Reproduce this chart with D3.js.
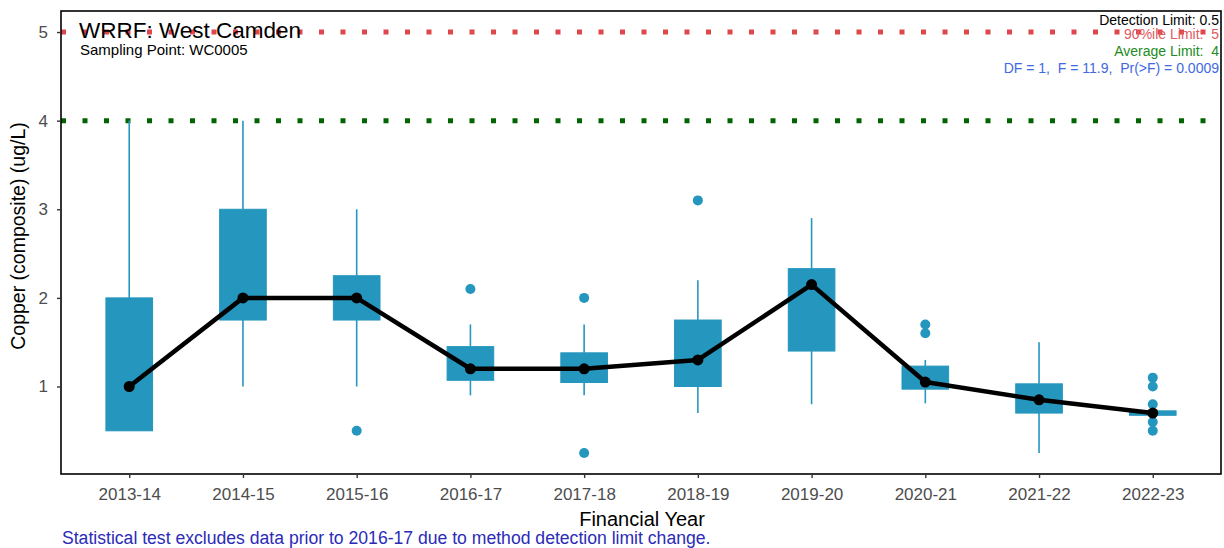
<!DOCTYPE html>
<html>
<head>
<meta charset="utf-8">
<script src="https://cdn.jsdelivr.net/npm/d3@7"></script>
<style>
  html, body { margin: 0; padding: 0; background: #fff; }
  svg { display: block; font-family: "Liberation Sans", Arial, sans-serif; }
</style>
</head>
<body>
<svg id="chart" width="1224" height="548"></svg>
<script>
const years = ["2013-14","2014-15","2015-16","2016-17","2017-18","2018-19","2019-20","2020-21","2021-22","2022-23"];
const q1    = [0.5, 1.75, 1.75, 1.07, 1.045, 1.0, 1.4, 0.97, 0.7, 0.675];
const q3    = [2.0, 3.0, 2.25, 1.45, 1.38, 1.75, 2.33, 1.23, 1.03, 0.725];
const whiskLow  = [0.5, 1.0, 1.0, 0.9, 0.9, 0.7, 0.8, 0.81, 0.25, 0.7];
const whiskHigh = [4.0, 4.0, 3.0, 1.7, 1.7, 2.2, 2.9, 1.3, 1.5, 0.7];
const medians = [1.0, 2.0, 2.0, 1.2, 1.2, 1.3, 2.15, 1.05, 0.85, 0.7];
const outliers = [[], [], [0.5], [2.1], [2.0, 0.25], [3.1], [], [1.7, 1.6], [], [1.1, 1.0, 0.8, 0.6, 0.5]];
const yTicks = [1, 2, 3, 4, 5];
const limit90 = 5, limitAvg = 4;

const svg = d3.select("#chart");
const L = 61, R = 1221, T = 11, B = 474;
const x = d3.scalePoint().domain(years).range([L, R]).padding(0.6);
const y = d3.scaleLinear().domain([0.0125, 5.2375]).range([B, T]);
const step = x.step();
const boxW = step * 0.41;
const boxColor = "#2596be";

// limit lines
svg.append("line").attr("x1", L).attr("x2", R).attr("y1", y(limit90)).attr("y2", y(limit90))
  .attr("stroke", "#e0474d").attr("stroke-width", 5).attr("stroke-dasharray", "5,16.5");
svg.append("line").attr("x1", L).attr("x2", R).attr("y1", y(limitAvg)).attr("y2", y(limitAvg))
  .attr("stroke", "#006400").attr("stroke-width", 5).attr("stroke-dasharray", "5,16.5");

// boxes, whiskers, outliers
const g = svg.append("g");
years.forEach((yr, i) => {
  const cx = x(yr);
  g.append("line").attr("x1", cx).attr("x2", cx).attr("y1", y(whiskHigh[i])).attr("y2", y(q3[i]))
    .attr("stroke", boxColor).attr("stroke-width", 1.6);
  g.append("line").attr("x1", cx).attr("x2", cx).attr("y1", y(q1[i])).attr("y2", y(whiskLow[i]))
    .attr("stroke", boxColor).attr("stroke-width", 1.6);
  g.append("rect").attr("x", cx - boxW / 2).attr("width", boxW)
    .attr("y", y(q3[i])).attr("height", Math.max(1, y(q1[i]) - y(q3[i])))
    .attr("fill", boxColor).attr("stroke", boxColor).attr("stroke-width", 1);
  outliers[i].forEach(v => {
    g.append("circle").attr("cx", cx).attr("cy", y(v)).attr("r", 5).attr("fill", boxColor);
  });
});

// median line
const line = d3.line().x((d, i) => x(years[i])).y(d => y(d));
svg.append("path").datum(medians).attr("d", line).attr("fill", "none")
  .attr("stroke", "#000").attr("stroke-width", 4.5).attr("stroke-linejoin", "round");
svg.selectAll(".med").data(medians).enter().append("circle")
  .attr("cx", (d, i) => x(years[i])).attr("cy", d => y(d)).attr("r", 5.5).attr("fill", "#000");

// panel border
svg.append("rect").attr("x", L).attr("y", T).attr("width", R - L).attr("height", B - T)
  .attr("fill", "none").attr("stroke", "#000").attr("stroke-width", 1.6);

// axes
const xAxis = svg.append("g").attr("transform", `translate(0,${B})`)
  .call(d3.axisBottom(x).tickSize(4).tickPadding(10));
xAxis.select(".domain").remove();
xAxis.selectAll("line").attr("stroke", "#333").attr("stroke-width", 1.4);
xAxis.selectAll("text").attr("font-size", 17).attr("fill", "#4d4d4d")
  .attr("font-family", "Liberation Sans, Arial, sans-serif");

const yAxis = svg.append("g").attr("transform", `translate(${L},0)`)
  .call(d3.axisLeft(y).tickValues(yTicks).tickFormat(d3.format("d")).tickSize(4).tickPadding(9));
yAxis.select(".domain").remove();
yAxis.selectAll("line").attr("stroke", "#333").attr("stroke-width", 1.4);
yAxis.selectAll("text").attr("font-size", 17).attr("fill", "#4d4d4d")
  .attr("font-family", "Liberation Sans, Arial, sans-serif");

// axis titles
svg.append("text").attr("x", 642).attr("y", 526).attr("text-anchor", "middle")
  .attr("font-size", 20).attr("fill", "#000").text("Financial Year");
svg.append("text").attr("transform", `translate(25,236) rotate(-90)`)
  .attr("text-anchor", "middle").attr("font-size", 19.5).attr("fill", "#000")
  .text("Copper (composite) (ug/L)");

// title & subtitle
svg.append("text").attr("x", 79).attr("y", 38).attr("font-size", 22.5).attr("fill", "#000")
  .text("WRRF: West Camden");
svg.append("text").attr("x", 80).attr("y", 55).attr("font-size", 15).attr("fill", "#000")
  .text("Sampling Point: WC0005");

// annotations
const ann = [
  ["Detection Limit: 0.5", "#000", 25],
  ["90%ile Limit:  5", "#e05a60", 39],
  ["Average Limit:  4", "#228b22", 56],
  ["DF = 1,  F = 11.9,  Pr(>F) = 0.0009", "#4169e1", 73]
];
ann.forEach(a => {
  svg.append("text").attr("x", 1219).attr("y", a[2]).attr("text-anchor", "end")
    .attr("font-size", 14).attr("fill", a[1]).attr("xml:space", "preserve")
    .style("white-space", "pre").text(a[0]);
});

// footer
svg.append("text").attr("x", 62).attr("y", 544).attr("font-size", 17.6).attr("fill", "#2b2bb8")
  .text("Statistical test excludes data prior to 2016-17 due to method detection limit change.");
</script>
</body>
</html>
